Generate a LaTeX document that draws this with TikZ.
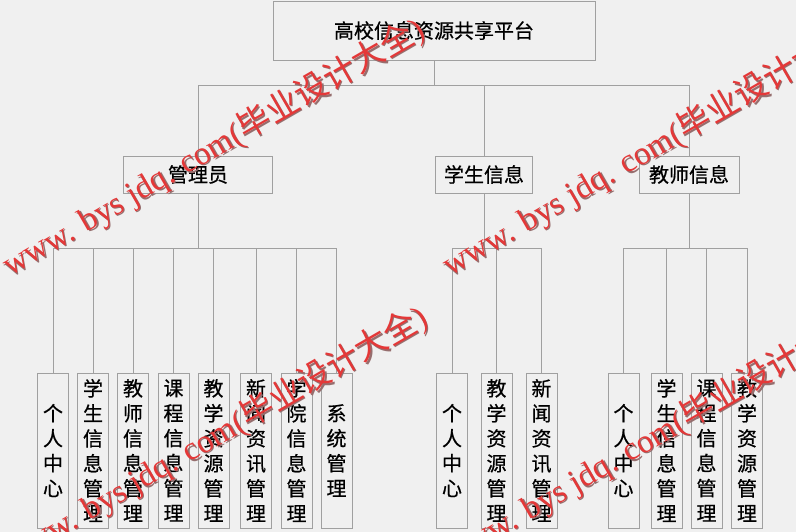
\documentclass[tikz,border=0pt]{standalone}
\usepackage{fontspec}
\newfontfamily\cjk{Noto Sans CJK SC}[BoldFont={Noto Sans CJK SC}, BoldFeatures={FakeBold=0.6}]
\newfontfamily\wmlat{Liberation Serif}
\definecolor{bg}{RGB}{240,240,240}
\definecolor{ln}{RGB}{160,160,160}
\definecolor{wmred}{RGB}{228,56,56}
\definecolor{wmsh}{RGB}{150,110,110}
\newcommand\wmtext{{\wmlat www. bys jdq. com(}{\cjk 毕业设计大全}{\wmlat )}}
\begin{document}
\begin{tikzpicture}[x=1pt,y=-1pt,
  box/.style={draw=ln, line width=0.8pt, fill=bg, inner sep=0pt, text=black,
    font=\cjk\bfseries\fontsize{20}{24}\selectfont},
  leafbox/.style={box, minimum width=31pt, minimum height=155pt, align=center,
    font=\cjk\bfseries\fontsize{20}{25}\selectfont},
  conn/.style={draw=ln, line width=0.8pt},
  wmbase/.style={anchor=base west, rotate=30, inner sep=0pt, font=\fontsize{33}{36}\selectfont},
  wmshadow/.style={wmbase, text=wmsh},
  wmmain/.style={wmbase, text=wmred}]
\useasboundingbox (0,0) rectangle (796,532);
\fill[bg] (0,0) rectangle (796,532);

% top level
\node[box, minimum width=322pt, minimum height=59pt] (top) at (434,30.5) {高校信息资源共享平台};
% second level
\node[box, minimum width=149pt, minimum height=37pt] (admin) at (198,174.5) {管理员};
\node[box, minimum width=97pt, minimum height=37pt] (stu) at (484,174.5) {学生信息};
\node[box, minimum width=100pt, minimum height=37pt] (tea) at (689,174.5) {教师信息};

% leaves under admin
\node[leafbox] (a1) at (53,450.5) {个\\人\\中\\心};
\node[leafbox] (a2) at (93,450.5) {学\\生\\信\\息\\管\\理};
\node[leafbox] (a3) at (133,450.5) {教\\师\\信\\息\\管\\理};
\node[leafbox] (a4) at (173.5,450.5) {课\\程\\信\\息\\管\\理};
\node[leafbox] (a5) at (213.5,450.5) {教\\学\\资\\源\\管\\理};
\node[leafbox] (a6) at (256,450.5) {新\\闻\\资\\讯\\管\\理};
\node[leafbox] (a7) at (296.5,450.5) {学\\院\\信\\息\\管\\理};
\node[leafbox] (a8) at (336.5,450.5) {系\\统\\管\\理};
% leaves under student
\node[leafbox] (s1) at (452,450.5) {个\\人\\中\\心};
\node[leafbox] (s2) at (496.5,450.5) {教\\学\\资\\源\\管\\理};
\node[leafbox] (s3) at (541.5,450.5) {新\\闻\\资\\讯\\管\\理};
% leaves under teacher
\node[leafbox] (t1) at (623.5,450.5) {个\\人\\中\\心};
\node[leafbox] (t2) at (666.5,450.5) {学\\生\\信\\息\\管\\理};
\node[leafbox] (t3) at (706.5,450.5) {课\\程\\信\\息\\管\\理};
\node[leafbox] (t4) at (747,450.5) {教\\学\\资\\源\\管\\理};

% bus coordinates
\coordinate (b0) at (434,85);
\coordinate (ba) at (198,248.5);
\coordinate (bs) at (484,248.5);
\coordinate (bt) at (689,248.5);

% connectors
\draw[conn] (top.south) -- (b0);
\draw[conn] (admin.north) |- (b0);
\draw[conn] (tea.north) |- (b0);
\draw[conn] (stu.north) -- (stu.north |- b0);

\draw[conn] (admin.south) -- (ba);
\foreach \n in {a1,a2,a3,a4,a5,a6,a7,a8} \draw[conn] (\n.north) |- (ba);
\draw[conn] (stu.south) -- (bs);
\foreach \n in {s1,s2,s3} \draw[conn] (\n.north) |- (bs);
\draw[conn] (tea.south) -- (bt);
\foreach \n in {t1,t2,t3,t4} \draw[conn] (\n.north) |- (bt);

% watermark
\begin{scope}
\clip (0,0) rectangle (796,532);
\node[wmshadow] (wm1s) at (11.2,278.2) {\wmtext};
\node[wmmain]   (wm1)  at (10,277) {\wmtext};
\node[wmshadow] (wm2s) at (451.2,278.2) {\wmtext};
\node[wmmain]   (wm2)  at (450,277) {\wmtext};
\node[wmshadow] (wm3s) at (14.2,566.2) {\wmtext};
\node[wmmain]   (wm3)  at (13,565) {\wmtext};
\node[wmshadow] (wm4s) at (454.2,566.2) {\wmtext};
\node[wmmain]   (wm4)  at (453,565) {\wmtext};
\end{scope}
\end{tikzpicture}
\end{document}
